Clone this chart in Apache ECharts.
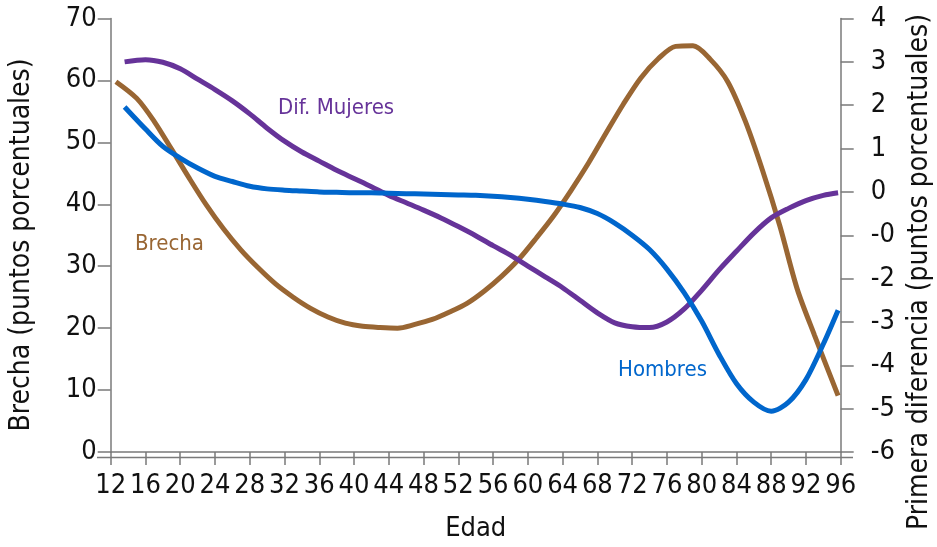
<!DOCTYPE html>
<html>
<head>
<meta charset="utf-8">
<script src="https://cdn.jsdelivr.net/npm/echarts@6/dist/echarts.min.js"></script>
<style>html,body{margin:0;padding:0;background:#fff}#c{width:937px;height:547px}</style>
</head>
<body>
<div id="c"></div>
<script>
// ---- data ----
const brechaAges = [12.6,15,17,19,21,23,25,27,29,31,33,35,37,39,41,43,45,47,49,51,53,55,57,59,61,63,65,67,69,71,73,75,77,79,81,83,85,87,89,91,93,95.7];
const brecha = [59.8,57.1,53.4,48.9,44.3,39.9,36.0,32.6,29.7,27.1,25.0,23.2,21.8,20.8,20.3,20.1,20.0,20.6,21.4,22.6,24.0,26.0,28.4,31.2,34.6,38.2,42.3,46.7,51.5,56.2,60.4,63.5,65.5,65.6,63.4,59.8,53.5,45.5,36.5,26.3,18.8,9.1];
const diffAges = [13.6,16,18,20,22,24,26,28,30,32,34,36,38,40,42,44,46,48,50,52,54,56,58,60,62,64,66,68,70,72,74,76,78,80,82,84,86,88,90,92,94,95.7];
const mujeres = [3.00,3.05,2.99,2.84,2.60,2.36,2.10,1.80,1.47,1.17,0.92,0.71,0.50,0.31,0.12,-0.08,-0.25,-0.42,-0.60,-0.80,-1.01,-1.24,-1.46,-1.71,-1.96,-2.21,-2.50,-2.79,-3.02,-3.11,-3.13,-3.00,-2.70,-2.27,-1.80,-1.37,-0.95,-0.60,-0.38,-0.20,-0.08,-0.02];
const hombres = [1.96,1.45,1.05,0.78,0.55,0.36,0.24,0.13,0.07,0.04,0.02,0.00,-0.01,-0.02,-0.02,-0.03,-0.04,-0.05,-0.06,-0.07,-0.08,-0.10,-0.13,-0.17,-0.22,-0.28,-0.36,-0.50,-0.72,-1.00,-1.33,-1.78,-2.33,-2.98,-3.75,-4.42,-4.85,-5.06,-4.85,-4.33,-3.51,-2.73];
const rightTickText = {"4":"4","3":"3","2":"2","1":"1","0":"0","-1":"-0","-2":"-2","-3":"-3","-4":"-4","-5":"-5","-6":"-6"};

const FONT = '"DejaVu Sans Condensed","Open Sans",sans-serif';
const BROWN = '#996633', PURPLE = '#663399', BLUE = '#0066CC', AXIS = '#7a7a7a', TXT = '#111';
const zip = (a, b) => a.map((x, i) => [x, b[i]]);

const chart = echarts.init(document.getElementById('c'));
const axisCommon = {
  axisLine: {show: true, lineStyle: {color: AXIS, width: 1.5}},
  axisTick: {show: true, length: 13, lineStyle: {color: AXIS, width: 1.5}},
  splitLine: {show: false}
};
chart.setOption({
  animation: false,
  grid: {left: 110.7, right: 96.3, top: 18.5, bottom: 90},
  xAxis: Object.assign({}, axisCommon, {
    type: 'value', min: 12, max: 96, interval: 4,
    name: 'Edad', nameLocation: 'middle', nameGap: 63,
    nameTextStyle: {fontFamily: FONT, fontSize: 27, color: TXT},
    axisLabel: {fontFamily: FONT, fontSize: 27, color: TXT, margin: 20}
  }),
  yAxis: [
    Object.assign({}, axisCommon, {
      type: 'value', min: 0, max: 70, interval: 10, position: 'left',
      axisLabel: {fontFamily: FONT, fontSize: 27, color: TXT, margin: 14}
    }),
    Object.assign({}, axisCommon, {
      type: 'value', min: -6, max: 4, interval: 1, position: 'right',
      axisLabel: {fontFamily: FONT, fontSize: 27, color: TXT, margin: 30, formatter: v => rightTickText[String(v)] ?? String(v)}
    })
  ],
  series: [
    {type: 'line', name: 'Brecha', yAxisIndex: 0, data: zip(brechaAges, brecha), smooth: 0.3, symbol: 'none', lineStyle: {color: BROWN, width: 5}},
    {type: 'line', name: 'Dif. Mujeres', yAxisIndex: 1, data: zip(diffAges, mujeres), smooth: 0.3, symbol: 'none', lineStyle: {color: PURPLE, width: 5}},
    {type: 'line', name: 'Hombres', yAxisIndex: 1, data: zip(diffAges, hombres), smooth: 0.3, symbol: 'none', lineStyle: {color: BLUE, width: 5}}
  ],
  graphic: [
    {type: 'line', shape: {x1: 97, y1: 457.5, x2: 853, y2: 457.5}, style: {stroke: AXIS, lineWidth: 1.5}, z: 100},
    {type: 'text', x: 22, y: 245, rotation: Math.PI / 2, style: {text: 'Brecha (puntos porcentuales)', fill: TXT, font: '28px ' + FONT, align: 'center', verticalAlign: 'middle'}},
    {type: 'text', x: 920, y: 272, rotation: Math.PI / 2, style: {text: 'Primera diferencia (puntos porcentuales)', fill: TXT, font: '28px ' + FONT, align: 'center', verticalAlign: 'middle'}},
    {type: 'text', left: 278, top: 97, style: {text: 'Dif. Mujeres', fill: PURPLE, font: '22px ' + FONT}},
    {type: 'text', left: 135, top: 233, style: {text: 'Brecha', fill: BROWN, font: '22px ' + FONT}},
    {type: 'text', left: 618, top: 359, style: {text: 'Hombres', fill: BLUE, font: '22px ' + FONT}}
  ]
});
</script>
</body>
</html>
